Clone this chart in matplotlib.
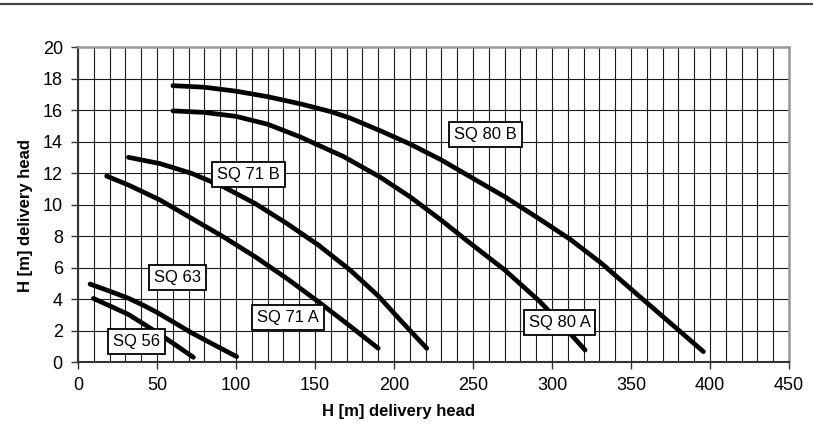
import matplotlib
matplotlib.use("Agg")
import matplotlib.pyplot as plt
from matplotlib.lines import Line2D

plt.rcParams['font.family'] = ['Liberation Sans', 'DejaVu Sans']

# Pump curves: flow (x) vs delivery head (y)
sq56_x = [9.7, 20, 31.9, 41, 51.9, 62, 73]
sq56_y = [4.04, 3.57, 3.02, 2.45, 1.75, 1.06, 0.3]

sq63_x = [7.6, 20, 31.9, 41, 50, 61, 71.9, 86, 100.4]
sq63_y = [4.95, 4.5, 4.05, 3.62, 3.15, 2.5, 1.85, 1.1, 0.34]

sq71a_x = [18.1, 31.9, 51.9, 71.9, 92, 112, 132.1, 152.1, 172.2, 190]
sq71a_y = [11.81, 11.24, 10.29, 9.12, 7.95, 6.69, 5.31, 3.83, 2.28, 0.87]

sq71b_x = [31.9, 51.9, 71.9, 92, 112, 132.1, 152.1, 172.2, 190, 205, 220.7]
sq71b_y = [13.0, 12.6, 11.98, 11.13, 10.07, 8.8, 7.43, 5.84, 4.2, 2.55, 0.87]

sq80a_x = [60, 80, 100, 120, 140.5, 168, 191.1, 210, 230, 247.5, 270, 292.4, 311.4, 320.9]
sq80a_y = [15.95, 15.85, 15.6, 15.1, 14.3, 13.05, 11.75, 10.5, 9.0, 7.6, 5.85, 3.83, 1.82, 0.76]

sq80b_x = [60, 80, 100, 120, 140.5, 160, 172, 191, 210, 230, 250, 270, 291, 311.4,
           331.4, 351.5, 371.5, 395.8]
sq80b_y = [17.55, 17.45, 17.2, 16.85, 16.4, 15.9, 15.5, 14.7, 13.85, 12.83, 11.66, 10.5,
           9.15, 7.8, 6.26, 4.5, 2.77, 0.66]

labels = ["SQ 56", "SQ 63", "SQ 71 A", "SQ 71 B", "SQ 80 A", "SQ 80 B"]
label_x = [37.3, 63.0, 133.1, 107.8, 304.7, 257.9]
label_y = [1.32, 5.35, 2.83, 11.9, 2.54, 14.46]

x_ticks = [0, 50, 100, 150, 200, 250, 300, 350, 400, 450]
y_ticks = [0, 2, 4, 6, 8, 10, 12, 14, 16, 18, 20]
x_title = "H [m] delivery head"
y_title = "H [m] delivery head"

fig = plt.figure(figsize=(8.13, 4.32), dpi=100)
ax = fig.add_axes([0.096, 0.162, 0.8745, 0.729])

ax.set_xlim(0, 450)
ax.set_ylim(0, 20)
ax.set_xticks(x_ticks)
ax.set_yticks(y_ticks)
ax.set_xticks(range(0, 451, 10), minor=True)
ax.tick_params(axis='x', which='minor', length=0)
ax.tick_params(axis='both', which='major', direction='out', length=5,
               width=1, labelsize=13, color='#333333', pad=6)
ax.grid(True, which='both', axis='x', color='#1a1a1a', lw=0.8)
ax.grid(True, which='major', axis='y', color='#1a1a1a', lw=0.8)
ax.set_axisbelow(True)

for s in ['left', 'bottom']:
    ax.spines[s].set_color('#333333')
    ax.spines[s].set_linewidth(1.5)
for s in ['top', 'right']:
    ax.spines[s].set_color('#999999')
    ax.spines[s].set_linewidth(1.8)

curves = [(sq56_x, sq56_y), (sq63_x, sq63_y), (sq71a_x, sq71a_y),
          (sq71b_x, sq71b_y), (sq80a_x, sq80a_y), (sq80b_x, sq80b_y)]
for cx, cy in curves:
    ax.plot(cx, cy, color='black', lw=3.4, solid_capstyle='round',
            solid_joinstyle='round', zorder=3)

for t, lx, ly in zip(labels, label_x, label_y):
    ax.text(lx, ly, t, ha='center', va='center', fontsize=12, zorder=5,
            bbox=dict(boxstyle='square,pad=0.3', fc='white', ec='black', lw=1.3))

ax.set_xlabel(x_title, fontsize=12, fontweight='bold')
ax.set_ylabel(y_title, fontsize=12, fontweight='bold')
ax.xaxis.set_label_coords(398 / 813, 1 - 404 / 432, transform=fig.transFigure)
ax.yaxis.set_label_coords(33 / 813, 0.5, transform=fig.transFigure)

fig.add_artist(Line2D([0, 1], [1 - 3.5 / 432, 1 - 3.5 / 432],
                      transform=fig.transFigure, color='#444444', lw=1.6))

fig.savefig("out.png", dpi=100)
